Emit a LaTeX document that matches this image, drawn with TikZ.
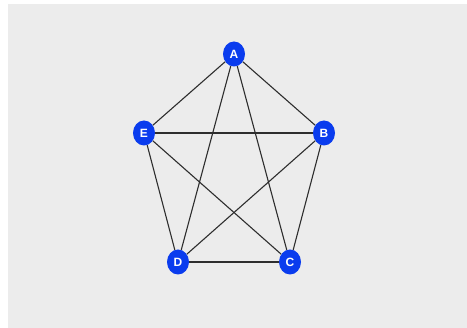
\documentclass[tikz,border=0pt]{standalone}
\usepackage{fontspec}
\setmainfont{Liberation Sans}
\usetikzlibrary{shapes.geometric}
\definecolor{bg}{HTML}{ECECEC}
\definecolor{nodeblue}{HTML}{0A3CEE}
\definecolor{edgegray}{HTML}{2E2E2E}
\tikzset{
  vert/.style={ellipse, fill=nodeblue, draw=none, minimum width=22pt, minimum height=25pt, inner sep=0pt, text=white, font=\bfseries\fontsize{12}{12}\selectfont},
  edge/.style={draw=edgegray, line width=1.1pt}
}
\begin{document}
\begin{tikzpicture}[x=1pt,y=-1pt]
\useasboundingbox (0,0) rectangle (467,328);
\fill[white] (0,0) rectangle (467,328);
\fill[bg] (8,4) rectangle (467,328);
\node[vert] (A) at (234,54) {A};
\node[vert] (B) at (324,133) {B};
\node[vert] (C) at (290,262) {C};
\node[vert] (D) at (178,262) {D};
\node[vert] (E) at (144,133) {E};
\draw[edge] (A) -- (B);
\draw[edge] (A) -- (C);
\draw[edge] (A) -- (D);
\draw[edge] (A) -- (E);
\draw[edge] (B) -- (C);
\draw[edge] (B) -- (D);
\draw[edge] (B) -- (E);
\draw[edge] (C) -- (D);
\draw[edge] (C) -- (E);
\draw[edge] (D) -- (E);
\end{tikzpicture}
\end{document}
